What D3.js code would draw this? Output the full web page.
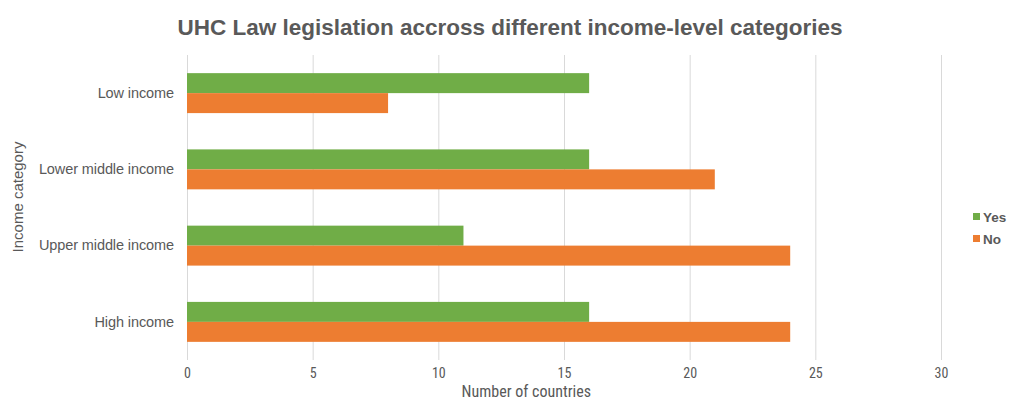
<!DOCTYPE html>
<html>
<head>
<meta charset="utf-8">
<script src="https://cdn.jsdelivr.net/npm/d3@7"></script>
<style>
  html, body { margin: 0; padding: 0; background: #fff; }
  svg { display: block; }
</style>
</head>
<body>
<svg id="chart" width="1009" height="400"></svg>
<script>
// Income categories, top to bottom
const categories = ["Low income", "Lower middle income", "Upper middle income", "High income"];
// Number of countries per category
const yesValues = [16, 16, 11, 16];
const noValues = [8, 21, 24, 24];
const seriesNames = ["Yes", "No"];
const xTicks = [0, 5, 10, 15, 20, 25, 30];

const colors = { Yes: "#70ad47", No: "#ed7d31" };
const textColor = "#595959";
const sansFont = "'Liberation Sans', Arial, sans-serif";
const narrowFont = "'Liberation Sans Narrow', 'Arial Narrow', 'Roboto Condensed', sans-serif";

const svg = d3.select("#chart");
const margin = { top: 55, left: 187 };
const plotW = 941 - margin.left;
const plotH = 360 - margin.top;

const rows = categories.map((c, i) => ({ category: c, Yes: yesValues[i], No: noValues[i] }));

const x = d3.scaleLinear().domain([0, 30]).range([0, plotW]);
const y = d3.scaleBand().domain(categories).range([0, plotH]).paddingInner(0.476).paddingOuter(0.238);
const ySub = d3.scaleBand().domain(seriesNames).range([0, y.bandwidth()]);

const g = svg.append("g").attr("transform", `translate(${margin.left},${margin.top})`);

// Vertical gridlines
g.append("g")
  .selectAll("line")
  .data(xTicks)
  .join("line")
  .attr("x1", d => x(d) + 0.5)
  .attr("x2", d => x(d) + 0.5)
  .attr("y1", 0)
  .attr("y2", plotH)
  .attr("stroke", "#d9d9d9")
  .attr("stroke-width", 1);

// Bars
const groups = g.append("g")
  .selectAll("g")
  .data(rows)
  .join("g")
  .attr("transform", d => `translate(0,${y(d.category)})`);

groups.selectAll("rect")
  .data(d => seriesNames.map(s => ({ key: s, value: d[s] })))
  .join("rect")
  .attr("x", x(0))
  .attr("y", d => ySub(d.key))
  .attr("width", d => x(d.value) - x(0))
  .attr("height", ySub.bandwidth())
  .attr("fill", d => colors[d.key]);

// X axis tick labels
const xAxis = g.append("g")
  .attr("transform", `translate(0,${plotH})`)
  .call(d3.axisBottom(x).tickValues(xTicks).tickSize(0).tickPadding(8));
xAxis.select(".domain").remove();
xAxis.selectAll("text")
  .attr("fill", textColor)
  .style("font-family", narrowFont)
  .style("font-size", "14px");

// Y axis category labels
const yAxis = g.append("g")
  .call(d3.axisLeft(y).tickSize(0).tickPadding(13));
yAxis.select(".domain").remove();
yAxis.selectAll("text")
  .attr("fill", textColor)
  .style("font-family", sansFont)
  .style("font-size", "14.5px")
  .style("letter-spacing", "-0.1px");

// Title
svg.append("text")
  .attr("x", 510)
  .attr("y", 35)
  .attr("text-anchor", "middle")
  .attr("fill", textColor)
  .style("font-family", sansFont)
  .style("font-weight", "bold")
  .style("font-size", "22.5px")
  .text("UHC Law legislation accross different income-level categories");

// X axis title
svg.append("text")
  .attr("x", margin.left + x(13.5))
  .attr("y", 397)
  .attr("text-anchor", "middle")
  .attr("fill", textColor)
  .style("font-family", narrowFont)
  .style("font-size", "16px")
  .text("Number of countries");

// Y axis title
svg.append("text")
  .attr("transform", `translate(23,197) rotate(-90)`)
  .attr("text-anchor", "middle")
  .attr("fill", textColor)
  .style("font-family", sansFont)
  .style("font-size", "15px")
  .text("Income category");

// Legend
const legend = svg.append("g").attr("transform", "translate(973,218)");
seriesNames.forEach((s, i) => {
  const item = legend.append("g").attr("transform", `translate(0,${i * 22})`);
  item.append("rect")
    .attr("x", 0).attr("y", -5)
    .attr("width", 7).attr("height", 7)
    .attr("fill", colors[s]);
  item.append("text")
    .attr("x", 10).attr("y", 4)
    .attr("fill", textColor)
    .style("font-family", sansFont)
    .style("font-weight", "bold")
    .style("font-size", "13.5px")
    .text(s);
});
</script>
</body>
</html>
